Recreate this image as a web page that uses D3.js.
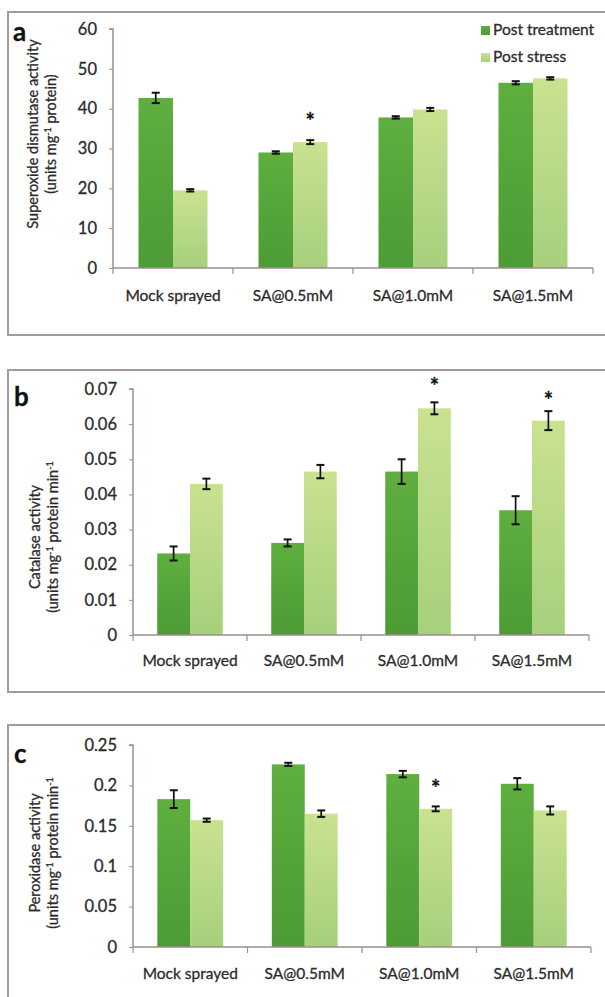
<!DOCTYPE html>
<html><head><meta charset="utf-8">
<script src="https://cdn.jsdelivr.net/npm/d3@7"></script>
<style>
html,body{margin:0;padding:0;background:#fff;}
svg{display:block;font-family:Lato,"Open Sans",sans-serif;}
svg text{stroke:#2b2b2b;stroke-width:0.3px;}
</style></head>
<body>
<svg id="chart" width="605" height="997"></svg>
<script>
// ---------- data ----------
const categories = ["Mock sprayed", "SA@0.5mM", "SA@1.0mM", "SA@1.5mM"];
const seriesNames = ["Post treatment", "Post stress"];

const sodTicks = [0, 10, 20, 30, 40, 50, 60];
const sodTreatment = [42.7, 29.0, 37.8, 46.5];
const sodTreatmentErr = [1.3, 0.3, 0.3, 0.4];
const sodStress = [19.5, 31.6, 39.8, 47.6];
const sodStressErr = [0.3, 0.5, 0.4, 0.3];
const sodStar = [null, 37.7, null, null];

const catTicks = [0, 0.01, 0.02, 0.03, 0.04, 0.05, 0.06, 0.07];
const catTreatment = [0.0232, 0.0262, 0.0465, 0.0355];
const catTreatmentErr = [0.0020, 0.0010, 0.0035, 0.0040];
const catStress = [0.0430, 0.0465, 0.0645, 0.0610];
const catStressErr = [0.0015, 0.0019, 0.0017, 0.0027];
const catStar = [null, null, 0.0718, 0.0678];

const poxTicks = [0, 0.05, 0.1, 0.15, 0.2, 0.25];
const poxTreatment = [0.183, 0.226, 0.214, 0.202];
const poxTreatmentErr = [0.011, 0.002, 0.004, 0.007];
const poxStress = [0.157, 0.165, 0.171, 0.169];
const poxStressErr = [0.002, 0.004, 0.003, 0.005];
const poxStar = [null, null, 0.200, null];

// ---------- drawing ----------
const svg = d3.select("#chart");
const defs = svg.append("defs");
function grad(id, top, bottom) {
  const g = defs.append("linearGradient").attr("id", id).attr("x1", 0).attr("y1", 0).attr("x2", 0).attr("y2", 1);
  g.append("stop").attr("offset", "0%").attr("stop-color", top);
  g.append("stop").attr("offset", "100%").attr("stop-color", bottom);
}
grad("gDark", "#5fae3f", "#4c9b35");
grad("gLight", "#c9e290", "#a6d07c");
const fills = ["url(#gDark)", "url(#gLight)"];
const axisColor = "#9c8e8e";
const textColor = "#2b2b2b";

function panel(cfg) {
  svg.append("rect").attr("x", 8).attr("y", cfg.frameTop).attr("width", 610).attr("height", cfg.frameH)
    .attr("fill", "none").attr("stroke", "#a59a9a").attr("stroke-width", 2);
  svg.append("text").attr("x", cfg.letterX).attr("y", cfg.letterY).attr("font-size", 26).attr("font-weight", "bold")
    .attr("fill", "#111").style("stroke", "#111").text(cfg.letter);

  const x = d3.scaleBand().domain(categories).range([cfg.x0, cfg.x1]).paddingInner(0.425).paddingOuter(0.2125);
  const xs = d3.scaleBand().domain(seriesNames).range([0, x.bandwidth()]);
  const y = d3.scaleLinear().domain([0, d3.max(cfg.ticks)]).range([cfg.yBot, cfg.yTop]);

  const g = svg.append("g");
  const series = [
    { name: seriesNames[0], vals: cfg.t, err: cfg.te, star: null },
    { name: seriesNames[1], vals: cfg.s, err: cfg.se, star: cfg.star }
  ];
  series.forEach((sr, si) => {
    categories.forEach((c, ci) => {
      const bx = x(c) + xs(sr.name);
      const v = sr.vals[ci];
      g.append("rect").attr("x", bx).attr("y", y(v)).attr("width", xs.bandwidth()).attr("height", y(0) - y(v))
        .attr("fill", fills[si]);
      const cx = bx + xs.bandwidth() / 2;
      const e = sr.err[ci];
      g.append("line").attr("x1", cx).attr("x2", cx).attr("y1", y(v - e)).attr("y2", y(v + e))
        .attr("stroke", "#111").attr("stroke-width", 1.7);
      [v - e, v + e].forEach(ev => {
        g.append("line").attr("x1", cx - 4).attr("x2", cx + 4).attr("y1", y(ev)).attr("y2", y(ev))
          .attr("stroke", "#111").attr("stroke-width", 2);
      });
      if (sr.star && sr.star[ci] != null) {
        g.append("text").attr("x", cx).attr("y", y(sr.star[ci]) + 11).attr("text-anchor", "middle")
          .attr("font-size", 22).attr("font-weight", "bold").attr("fill", "#111").style("stroke", "#111").text("*");
      }
    });
  });

  const ya = svg.append("g").attr("transform", `translate(${cfg.x0},0)`)
    .call(d3.axisLeft(y).tickValues(cfg.ticks).tickSize(4).tickPadding(12).tickFormat(d => d3.format("")(+d.toFixed(3))));
  ya.select(".domain").attr("stroke", axisColor).attr("stroke-width", 1.5).attr("d", `M-4,${cfg.yTop}H0V${cfg.yBot}`);
  ya.selectAll(".tick line").attr("stroke", axisColor);
  ya.selectAll(".tick text").attr("font-size", 16.5).attr("fill", textColor).attr("font-family", "Lato, sans-serif");

  const xa = svg.append("g").attr("transform", `translate(0,${cfg.yBot})`)
    .call(d3.axisBottom(x).tickSize(0).tickPadding(cfg.labelPad));
  xa.select(".domain").attr("stroke", axisColor).attr("stroke-width", 1.5).attr("d", `M${cfg.x0},0H${cfg.x1}`);
  xa.selectAll(".tick text").attr("font-size", 15.5).attr("fill", textColor).attr("font-family", "Lato, sans-serif");
  const step = x.step();
  d3.range(categories.length + 1).forEach(i => {
    const tx = cfg.x0 + i * step;
    xa.append("line").attr("x1", tx).attr("x2", tx).attr("y1", 0).attr("y2", 6).attr("stroke", axisColor).attr("stroke-width", 1.2);
  });

  const tg = svg.append("g").attr("transform", `translate(${cfg.titleX},${cfg.titleY}) rotate(-90)`);
  tg.append("text").attr("text-anchor", "middle").attr("y", 0).attr("font-size", 14.5).attr("fill", textColor).text(cfg.title1);
  const t2 = tg.append("text").attr("text-anchor", "middle").attr("y", 18).attr("font-size", 14.5).attr("fill", textColor);
  cfg.title2.forEach(p => {
    if (p.sup) t2.append("tspan").attr("font-size", 9).attr("dy", -5).text(p.t);
    else t2.append("tspan").attr("dy", p.after ? 5 : 0).text(p.t);
  });
  return { x, y };
}

panel({
  letter: "a", letterX: 13, letterY: 41, frameTop: 12, frameH: 323,
  x0: 113, x1: 593, yTop: 29, yBot: 268, ticks: sodTicks, labelPad: 22,
  t: sodTreatment, te: sodTreatmentErr, s: sodStress, se: sodStressErr, star: sodStar,
  titleX: 38, titleY: 134, title1: "Superoxide dismutase activity",
  title2: [{ t: "(units mg" }, { t: "-1", sup: true }, { t: " protein)", after: true }]
});
panel({
  letter: "b", letterX: 14, letterY: 406, frameTop: 370, frameH: 322,
  x0: 133, x1: 589, yTop: 389, yBot: 635, ticks: catTicks, labelPad: 20,
  t: catTreatment, te: catTreatmentErr, s: catStress, se: catStressErr, star: catStar,
  titleX: 40, titleY: 537, title1: "Catalase activity",
  title2: [{ t: "(units mg" }, { t: "-1", sup: true }, { t: " protein min", after: true }, { t: "-1", sup: true }]
});
panel({
  letter: "c", letterX: 14, letterY: 763, frameTop: 725, frameH: 290,
  x0: 133, x1: 591, yTop: 745, yBot: 947, ticks: poxTicks, labelPad: 21,
  t: poxTreatment, te: poxTreatmentErr, s: poxStress, se: poxStressErr, star: poxStar,
  titleX: 40, titleY: 853, title1: "Peroxidase  activity",
  title2: [{ t: "(units mg" }, { t: "-1", sup: true }, { t: " protein min", after: true }, { t: "-1", sup: true }]
});

const lg = svg.append("g");
lg.append("rect").attr("x", 478).attr("y", 16).attr("width", 127).attr("height", 56).attr("fill", "#fff");
seriesNames.forEach((n, i) => {
  const ly = 30 + i * 27;
  lg.append("rect").attr("x", 481).attr("y", ly - 4).attr("width", 9).attr("height", 9).attr("fill", fills[i]);
  lg.append("text").attr("x", 493).attr("y", ly + 5).attr("font-size", 15.5).attr("fill", textColor).text(n);
});
</script>
</body></html>
